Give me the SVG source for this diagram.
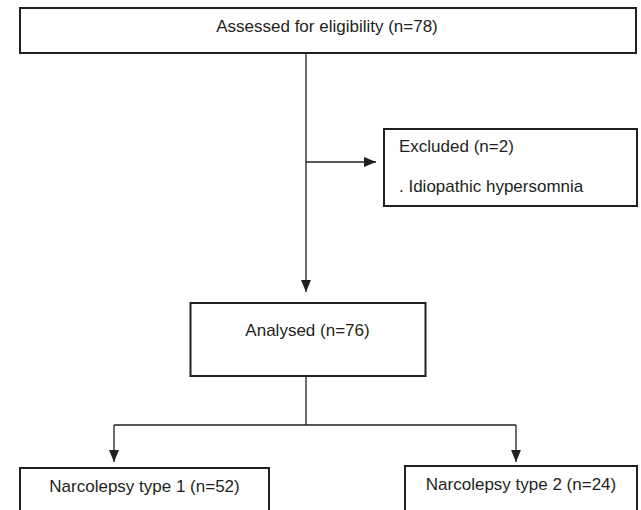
<svg xmlns="http://www.w3.org/2000/svg" width="641" height="510" viewBox="0 0 641 510">
<style>
.box{fill:#fff;stroke:#231f20;stroke-width:2}
.ln{fill:none;stroke:#231f20;stroke-width:1.3}
.t{font-family:"Liberation Sans",Arial,sans-serif;font-size:17px;fill:#231f20}
.c{text-anchor:middle}
</style>
<defs>
<marker id="ah" viewBox="0 0 12 10" refX="12" refY="5" markerWidth="12" markerHeight="10" markerUnits="userSpaceOnUse" orient="auto">
<path d="M0,0 L12,5 L0,10 Z" fill="#231f20"/>
</marker>
</defs>
<rect width="641" height="510" fill="#fff"/>
<g id="connectors">
<line class="ln" x1="306" y1="53" x2="306" y2="292" marker-end="url(#ah)"/>
<line class="ln" x1="306" y1="162" x2="376" y2="162" marker-end="url(#ah)"/>
<polyline class="ln" points="306,376 306,425"/>
<polyline class="ln" points="114,425 516,425"/>
<line class="ln" x1="114" y1="425" x2="114" y2="462" marker-end="url(#ah)"/>
<line class="ln" x1="516" y1="425" x2="516" y2="462" marker-end="url(#ah)"/>
</g>
<g id="assessed">
<rect class="box" x="20" y="8" width="616" height="45"/>
<text class="t c" x="327" y="32">Assessed for eligibility (n=78)</text>
</g>
<g id="excluded">
<rect class="box" x="384" y="129" width="253" height="77"/>
<text class="t" x="399" y="152">Excluded (n=2)</text>
<text class="t" x="399" y="192">. Idiopathic hypersomnia</text>
</g>
<g id="analysed">
<rect class="box" x="190.5" y="303" width="235" height="73"/>
<text class="t c" x="307.5" y="336">Analysed (n=76)</text>
</g>
<g id="nt1">
<rect class="box" x="20" y="468" width="249" height="60"/>
<text class="t c" x="144.5" y="492">Narcolepsy type 1 (n=52)</text>
</g>
<g id="nt2">
<rect class="box" x="405" y="466" width="232" height="60"/>
<text class="t c" x="521" y="490">Narcolepsy type 2 (n=24)</text>
</g>
</svg>
